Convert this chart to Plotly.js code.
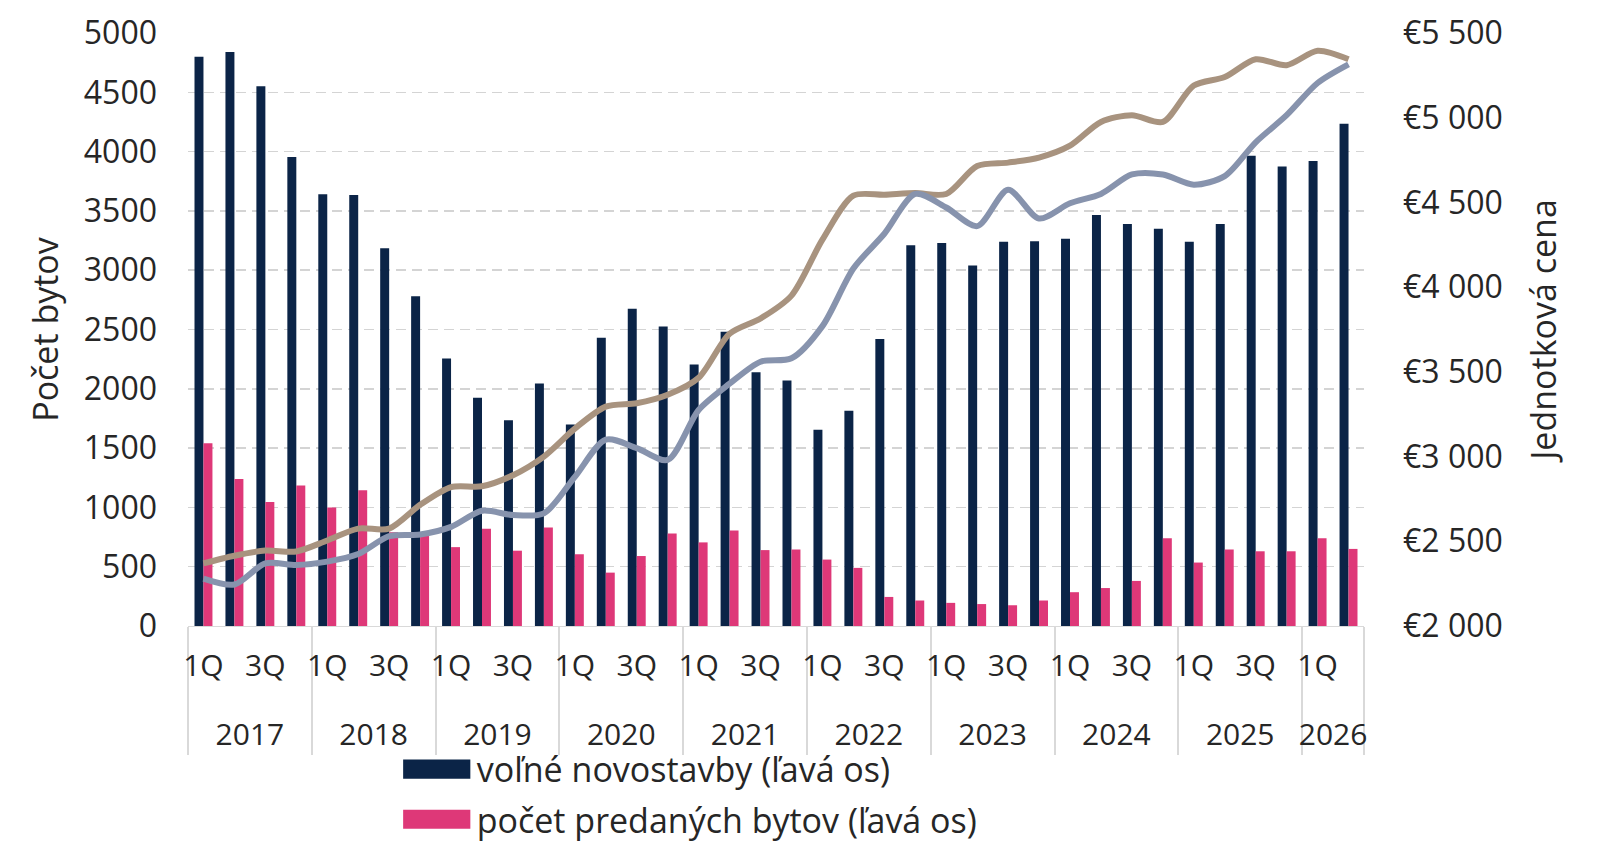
<!DOCTYPE html>
<html>
<head>
<meta charset="utf-8">
<script src="https://cdn.plot.ly/plotly-3.0.1.min.js"></script>
<style>
	html, body { margin: 0; padding: 0; background: #ffffff; }
	#chart { width: 1600px; height: 861px; }
</style>
</head>
<body>
<div id="chart"></div>
<script>
// years and the quarter labels shown under the bars (only 1Q and 3Q are printed;
// the blank 2Q label is two lines high so the year row sits lower, as in the original)
const years = ['2017', '2018', '2019', '2020', '2021', '2022', '2023', '2024', '2025', '2026'];
const quarterLabels = ['1Q', '\u00a0<br>\u00a0', '3Q', '\u00a0\u00a0'];
const quartersPerYear = [4, 4, 4, 4, 4, 4, 4, 4, 4, 2];

// left axis - number of flats
const volneNovostavby = [
	4800, 4840, 4550, 3955, 3640, 3635, 3185, 2780,
	2255, 1925, 1735, 2045, 1700, 2430, 2675, 2525,
	2205, 2480, 2140, 2070, 1655, 1815, 2420, 3210,
	3230, 3040, 3240, 3245, 3265, 3465, 3390, 3350,
	3240, 3390, 3965, 3875, 3920, 4235
];
const predaneByty = [
	1540, 1240, 1045, 1185, 1000, 1145, 790, 760,
	665, 820, 635, 830, 605, 450, 590, 780,
	705, 805, 640, 645, 560, 490, 245, 215,
	195, 185, 175, 215, 285, 320, 380, 740,
	535, 645, 630, 630, 740, 650
];

// right axis - unit price (EUR per m2)
const cenaHneda = [
	2370, 2415, 2445, 2440, 2505, 2575, 2575, 2715,
	2820, 2825, 2890, 3000, 3165, 3295, 3315, 3365,
	3465, 3725, 3815, 3950, 4280, 4540, 4545, 4555,
	4550, 4715, 4735, 4765, 4835, 4975, 5015, 4975,
	5190, 5240, 5345, 5310, 5395, 5345
];
const cenaSiva = [
	2280, 2245, 2370, 2360, 2380, 2425, 2530, 2540,
	2585, 2680, 2655, 2665, 2880, 3100, 3050, 2980,
	3275, 3430, 3560, 3580, 3770, 4110, 4315, 4550,
	4470, 4360, 4575, 4405, 4495, 4550, 4665, 4665,
	4605, 4655, 4855, 5015, 5205, 5315
];

const textColor = '#262626';
const fontFamily = '"Open Sans", "Noto Sans", sans-serif';

const yearRow = [];
const quarterRow = [];
years.forEach((year, i) => {
	for (let q = 0; q < quartersPerYear[i]; q++) {
		yearRow.push(year);
		quarterRow.push(quarterLabels[q]);
	}
});
const xCats = [yearRow, quarterRow];

const data = [
	{
		type: 'bar',
		name: 'voľné novostavby (ľavá os)',
		x: xCats,
		y: volneNovostavby,
		marker: { color: '#0b2447' },
		legendgroup: 'a',
	},
	{
		type: 'bar',
		name: 'počet predaných bytov (ľavá os)',
		x: xCats,
		y: predaneByty,
		marker: { color: '#de3878' },
		legendgroup: 'b',
	},
	{
		type: 'scatter',
		mode: 'lines',
		x: xCats,
		y: cenaHneda,
		yaxis: 'y2',
		line: { color: '#a8937f', width: 6, shape: 'spline', smoothing: 0.8 },
		showlegend: false,
	},
	{
		type: 'scatter',
		mode: 'lines',
		x: xCats,
		y: cenaSiva,
		yaxis: 'y2',
		line: { color: '#8793ad', width: 6, shape: 'spline', smoothing: 0.8 },
		showlegend: false,
	},
];

const layout = {
	width: 1600,
	height: 861,
	margin: { l: 188, r: 236, t: 33, b: 235, autoexpand: false },
	paper_bgcolor: '#ffffff',
	plot_bgcolor: '#ffffff',
	font: { family: fontFamily, size: 30, color: textColor },
	barmode: 'group',
	bargap: 0.42,
	bargroupgap: 0,
	separators: ', ',
	xaxis: {
		type: 'multicategory',
		automargin: false,
		tickmode: 'linear',
		tick0: 0,
		dtick: 1,
		tickangle: 0,
		ticklabelstandoff: 13,
		showline: true,
		linecolor: '#d9d9d9',
		linewidth: 1,
		showdividers: true,
		dividercolor: '#d9d9d9',
		dividerwidth: 2,
		ticks: '',
		tickfont: { size: 30, color: textColor },
		showgrid: false,
		zeroline: false,
	},
	yaxis: {
		automargin: false,
		range: [0, 5000],
		dtick: 500,
		tickformat: 'd',
		showgrid: true,
		gridcolor: '#d4d4d4',
		gridwidth: 1.5,
		griddash: '10px,6px',
		zeroline: false,
		ticks: '',
		ticklabelstandoff: 30,
		tickfont: { size: 32, color: textColor },
		title: { text: 'Počet bytov', font: { size: 34, color: textColor }, standoff: 14 },
	},
	yaxis2: {
		automargin: false,
		overlaying: 'y',
		side: 'right',
		range: [2000, 5500],
		dtick: 500,
		tickformat: ',d',
		tickprefix: '€',
		showgrid: false,
		zeroline: false,
		ticks: '',
		ticklabelstandoff: 38,
		tickfont: { size: 32, color: textColor },
		title: { text: 'Jednotková cena', font: { size: 34, color: textColor }, standoff: 30 },
	},
	showlegend: true,
	legend: {
		orientation: 'v',
		x: 0.1775,
		xanchor: 'left',
		y: -0.193,
		yanchor: 'top',
		traceorder: 'grouped',
		tracegroupgap: 3,
		itemwidth: 70,
		font: { size: 34, color: textColor },
		bgcolor: 'rgba(0,0,0,0)',
	},
};

Plotly.newPlot('chart', data, layout, { displayModeBar: false, staticPlot: true }).then(gd => {
	// wide flat legend swatches like the original
	gd.querySelectorAll('.legend .legendpoints path').forEach(p => {
		const t = p.getAttribute('transform') || '';
		p.setAttribute('transform', t + ' scale(5.6,1.6)');
	});
});
</script>
</body>
</html>
